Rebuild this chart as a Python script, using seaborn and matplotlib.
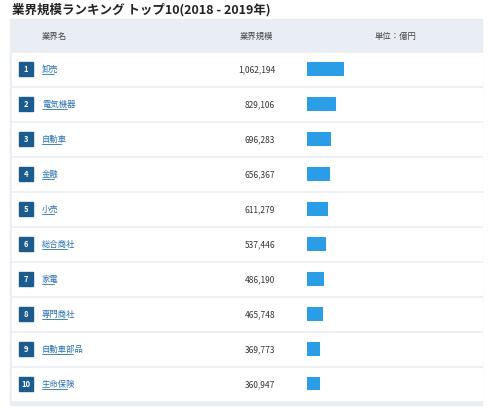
import matplotlib
matplotlib.use("Agg")
import matplotlib.pyplot as plt
import seaborn as sns
import pandas as pd
from matplotlib.patches import Rectangle

# データ
ranks = [1, 2, 3, 4, 5, 6, 7, 8, 9, 10]
industries = ["卸売", "電気機器", "自動車", "金融", "小売", "総合商社", "家電", "専門商社", "自動車部品", "生命保険"]
sizes = [1062194, 829106, 696283, 656367, 611279, 537446, 486190, 465748, 369773, 360947]

df = pd.DataFrame({"業界名": industries, "業界規模": sizes})

sns.set_style("white")
plt.rcParams['font.family'] = ['Noto Sans CJK JP', 'DejaVu Sans']
plt.rcParams['hatch.color'] = '#8fd0f5'
plt.rcParams['hatch.linewidth'] = 0.8

W, H = 490, 410
fig = plt.figure(figsize=(W / 100, H / 100), dpi=100)

# 背景用の軸（ピクセル座標）
bg = fig.add_axes([0, 0, 1, 1])
bg.set_xlim(0, W)
bg.set_ylim(H, 0)
bg.axis("off")

bg.text(12, 10, "業界規模ランキング トップ10(2018 - 2019年)", fontsize=9, fontweight="bold",
        va="center", ha="left", color="#222222")
bg.add_patch(Rectangle((10, 20), 472, 386, color="#e9eef5", zorder=0))
hy = 36
bg.text(42, hy, "業界名", fontsize=6, va="center", color="#444444")
bg.text(256, hy, "業界規模", fontsize=6, va="center", ha="center", color="#444444")
bg.text(396, hy, "単位：億円", fontsize=6, va="center", ha="center", color="#444444")

row_h = 35
top = 52
for i, (r, name, v) in enumerate(zip(ranks, industries, sizes)):
    y0 = top + i * row_h
    cy = y0 + row_h / 2
    bg.add_patch(Rectangle((12, y0 + 1.5), 470, row_h - 3, color="white", zorder=1))
    bg.add_patch(Rectangle((19, cy - 7), 14, 14, color="#1b5b8e", zorder=2))
    bg.text(26, cy, str(r), fontsize=5.5, color="white", fontweight="bold",
            ha="center", va="center", zorder=3)
    t = bg.text(42, cy, name, fontsize=6, color="#2a70b0", va="center", zorder=3)
    tw = 6.2 * len(name)
    bg.plot([42, 42 + tw], [cy + 5, cy + 5], color="#2a70b0", lw=0.6, zorder=3)
    bg.text(275, cy, f"{v:,}", fontsize=6, color="#333333", ha="right", va="center", zorder=3)

# 棒グラフ
bar_left, bar_w = 307, 150
ax = fig.add_axes([bar_left / W, 1 - (top + 10 * row_h) / H, bar_w / W, 10 * row_h / H])
sns.barplot(data=df, y="業界名", x="業界規模", orient="h", color="#2a9de6",
            width=0.4, saturation=1, hatch="//////", edgecolor="#2a9de6",
            linewidth=0, ax=ax)
ax.set_xlim(0, max(sizes) * bar_w / 37)
ax.set_ylim(9.5, -0.5)
ax.axis("off")
ax.patch.set_alpha(0)

fig.savefig("out.png", dpi=100)
